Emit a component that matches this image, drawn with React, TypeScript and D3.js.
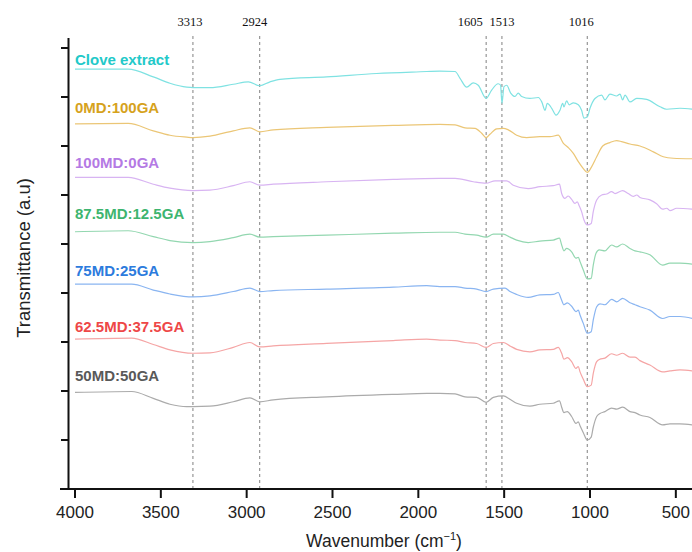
import React from "react";
import * as d3 from "d3";

// ---------- DATA ----------
const seriesNames = [
  "Clove extract",
  "0MD:100GA",
  "100MD:0GA",
  "87.5MD:12.5GA",
  "75MD:25GA",
  "62.5MD:37.5GA",
  "50MD:50GA",
];

// [wavenumber (cm-1), transmittance (a.u., stacked)]
const cloveExtract: [number, number][] = [
  [4000, 85.7], [3690, 85.7], [3544, 84.1], [3447, 82.8], [3349, 82.0], [3313, 81.9],
  [3214, 81.9], [3078, 82.6], [2990, 83.1], [2924, 82.3], [2864, 83.1], [2806, 83.6],
  [2534, 84.1], [2243, 84.8], [1951, 85.2], [1875, 85.3], [1786, 85.2], [1757, 83.8],
  [1718, 82.0], [1680, 82.9], [1651, 82.4], [1605, 79.7], [1573, 81.4], [1535, 82.7],
  [1521, 82.4], [1513, 78.7], [1501, 82.1], [1485, 82.4], [1462, 80.8], [1437, 80.1],
  [1418, 80.8], [1398, 80.1], [1350, 79.7], [1301, 79.9], [1281, 79.0], [1262, 77.3],
  [1249, 78.7], [1223, 77.7], [1198, 76.3], [1175, 77.3], [1159, 78.7], [1152, 78.0],
  [1136, 79.2], [1121, 78.4], [1097, 78.8], [1068, 78.4], [1049, 77.3], [1035, 75.7],
  [1016, 75.9], [1000, 77.7], [971, 79.7], [932, 80.4], [913, 79.4], [884, 80.6],
  [845, 80.2], [825, 80.6], [810, 79.4], [796, 80.4], [767, 79.0], [728, 79.7],
  [670, 79.5], [592, 78.0], [553, 77.5], [476, 77.7], [404, 77.5],
];

const md0ga100: [number, number][] = [
  [4000, 74.5], [3690, 74.6], [3544, 73.1], [3447, 72.2], [3349, 71.8], [3313, 71.7],
  [3214, 72.0], [3078, 73.1], [2981, 73.7], [2924, 72.9], [2845, 73.3], [2534, 73.8],
  [2146, 74.2], [1875, 74.4], [1786, 74.3], [1728, 73.7], [1670, 73.6], [1631, 72.6],
  [1605, 71.7], [1583, 72.4], [1544, 73.5], [1505, 73.6], [1476, 73.3], [1427, 72.2],
  [1369, 71.7], [1292, 71.9], [1233, 71.9], [1185, 72.2], [1156, 70.6], [1127, 69.7],
  [1097, 68.5], [1068, 66.8], [1039, 65.4], [1016, 64.6], [990, 65.8], [961, 67.8],
  [926, 70.0], [884, 70.7], [845, 71.1], [816, 70.9], [767, 70.4], [709, 70.0],
  [631, 68.8], [573, 67.8], [515, 67.5], [404, 67.4],
];

const md100ga0: [number, number][] = [
  [4000, 63.6], [3690, 63.6], [3544, 62.2], [3447, 61.4], [3313, 60.9], [3214, 61.0],
  [3078, 61.9], [2981, 62.7], [2924, 62.0], [2845, 62.2], [2534, 62.7], [2146, 63.2],
  [1875, 63.4], [1786, 63.4], [1680, 62.7], [1605, 62.4], [1553, 62.9], [1485, 62.9],
  [1447, 62.0], [1360, 61.3], [1292, 61.7], [1214, 61.9], [1178, 62.2], [1165, 60.3],
  [1146, 59.3], [1127, 59.8], [1107, 59.1], [1088, 58.3], [1074, 58.6], [1063, 57.8],
  [1049, 56.6], [1035, 54.9], [1016, 53.9], [993, 54.2], [981, 56.6], [961, 59.0],
  [932, 60.0], [903, 60.2], [874, 60.7], [854, 60.3], [810, 60.9], [777, 60.3],
  [748, 59.7], [728, 60.0], [709, 59.5], [651, 59.0], [612, 58.2], [577, 57.1],
  [553, 57.3], [534, 56.8], [495, 57.3], [404, 57.1],
];

const md87ga12: [number, number][] = [
  [4000, 52.5], [3690, 52.7], [3544, 51.5], [3447, 50.7], [3313, 50.3], [3214, 50.5],
  [3078, 51.3], [2981, 52.0], [2924, 51.4], [2845, 51.5], [2534, 51.8], [2146, 52.2],
  [1875, 52.4], [1786, 52.4], [1728, 52.0], [1660, 51.8], [1605, 51.4], [1563, 52.0],
  [1505, 52.0], [1466, 51.4], [1427, 50.8], [1360, 50.3], [1292, 50.6], [1214, 50.8],
  [1178, 51.2], [1165, 49.8], [1152, 48.6], [1136, 49.1], [1107, 48.4], [1082, 47.1],
  [1068, 47.3], [1058, 46.4], [1039, 44.7], [1016, 42.9], [993, 43.0], [981, 45.7],
  [965, 48.1], [946, 48.8], [913, 48.6], [874, 49.8], [845, 49.4], [810, 50.0],
  [767, 49.1], [738, 48.6], [709, 48.4], [651, 47.8], [577, 45.7], [534, 46.1],
  [476, 46.1], [404, 45.9],
];

const md75ga25: [number, number][] = [
  [4000, 41.8], [3670, 41.8], [3544, 40.6], [3447, 39.8], [3313, 39.2], [3214, 39.4],
  [3078, 40.3], [2981, 41.0], [2924, 40.3], [2845, 40.5], [2534, 40.8], [2146, 41.2],
  [1951, 41.5], [1875, 41.3], [1786, 41.3], [1728, 41.0], [1660, 40.8], [1605, 40.3],
  [1563, 40.8], [1495, 41.0], [1466, 40.3], [1427, 39.7], [1360, 39.1], [1292, 39.6],
  [1214, 39.7], [1185, 40.1], [1169, 38.9], [1152, 37.6], [1132, 38.0], [1107, 37.3],
  [1082, 36.2], [1068, 36.5], [1058, 35.5], [1039, 33.8], [1016, 31.8], [993, 32.1],
  [981, 34.5], [961, 37.2], [942, 37.8], [913, 37.6], [874, 38.7], [845, 38.2],
  [810, 38.9], [767, 38.0], [738, 37.6], [709, 37.2], [651, 36.5], [577, 34.8],
  [534, 35.2], [476, 35.2], [404, 34.8],
];

const md62ga37: [number, number][] = [
  [4000, 30.6], [3670, 30.8], [3544, 29.5], [3447, 28.4], [3313, 27.7], [3214, 27.8],
  [3078, 28.9], [2981, 29.9], [2924, 29.0], [2845, 29.2], [2534, 29.7], [2146, 30.3],
  [1951, 30.6], [1875, 30.4], [1786, 30.3], [1728, 29.9], [1660, 29.7], [1605, 28.9],
  [1563, 29.7], [1505, 29.9], [1466, 29.2], [1427, 28.5], [1350, 28.0], [1292, 28.4],
  [1214, 28.5], [1185, 28.9], [1165, 27.7], [1152, 26.5], [1132, 26.8], [1107, 26.0],
  [1082, 24.6], [1068, 25.0], [1058, 23.9], [1039, 22.4], [1016, 20.9], [993, 21.2],
  [981, 23.6], [961, 26.0], [942, 26.5], [913, 26.7], [874, 27.6], [845, 27.3],
  [810, 27.7], [767, 26.9], [738, 26.9], [709, 26.2], [651, 25.3], [577, 23.9],
  [534, 24.1], [476, 24.3], [404, 24.1],
];

const md50ga50: [number, number][] = [
  [4000, 19.7], [3670, 19.9], [3544, 18.5], [3447, 17.3], [3349, 16.8], [3313, 16.8],
  [3214, 16.9], [3078, 17.8], [2981, 18.6], [2924, 17.8], [2845, 18.2], [2534, 18.8],
  [2146, 19.3], [1951, 19.5], [1875, 19.5], [1786, 19.4], [1728, 18.8], [1660, 18.7],
  [1605, 17.7], [1563, 18.7], [1505, 19.0], [1466, 18.3], [1427, 17.5], [1350, 16.9],
  [1292, 17.3], [1214, 17.5], [1178, 18.0], [1165, 16.7], [1152, 15.6], [1132, 15.8],
  [1107, 14.8], [1082, 13.4], [1068, 13.7], [1058, 12.9], [1039, 11.5], [1016, 10.0],
  [993, 10.6], [981, 12.6], [961, 14.8], [942, 15.4], [913, 15.8], [874, 16.5],
  [845, 16.3], [810, 16.7], [767, 15.8], [738, 15.6], [709, 15.1], [651, 14.6],
  [577, 13.1], [534, 13.3], [476, 13.3], [404, 13.1],
];

const seriesData = [cloveExtract, md0ga100, md100ga0, md87ga12, md75ga25, md62ga37, md50ga50];

const peakWavenumbers = [3313, 2924, 1605, 1513, 1016];
const xTickValues = [4000, 3500, 3000, 2500, 2000, 1500, 1000, 500];
const yTickValues = [0, 10, 20, 30, 40, 50, 60, 70, 80, 90];

// ---------- STYLE / LAYOUT ----------
const labelColors = ["#22c9c9", "#d6a21c", "#b47ae4", "#3db56f", "#2c7bdd", "#ee4747", "#595959"];
const lineColors = ["#7fe2e2", "#ebc676", "#d8b4f2", "#93d7b0", "#8ab5f1", "#f5a5a5", "#ababab"];
const labelOffsets = [-10, -16, -15, -18, -14, -13, -17]; // px above curve start (label centre)
const peakLabelNudge = [-3, -5, -16, 0, -6];

const W = 692;
const H = 552;
const FONT = "'Liberation Sans', Arial, Helvetica, sans-serif";
const SERIF = "'Liberation Serif', 'Times New Roman', serif";

export default function App() {
  const x = d3.scaleLinear().domain([4000, 400]).range([75, 693]);
  const y = d3.scaleLinear().domain([0, 92]).range([489, 38.2]);
  const axisY = y(0);
  const axisX = 68.5;

  const line = d3
    .line<[number, number]>()
    .x((d) => x(d[0]))
    .y((d) => y(d[1]))
    .curve(d3.curveMonotoneX);

  return (
    <svg
      width={W}
      height={H}
      style={{ position: "absolute", left: 0, top: 0, background: "#fff" }}
      fontFamily={FONT}
    >
      <rect width={W} height={H} fill="#fff" />

      {/* peak dashed lines */}
      {peakWavenumbers.map((p, i) => (
        <g key={p}>
          <line
            x1={x(p)}
            x2={x(p)}
            y1={36}
            y2={axisY}
            stroke="#808080"
            strokeWidth={1}
            strokeDasharray="3,3"
          />
          <text
            x={x(p) + peakLabelNudge[i]}
            y={26}
            textAnchor="middle"
            fontFamily={SERIF}
            fontSize={12.5}
            fill="#111"
          >
            {p}
          </text>
        </g>
      ))}

      {/* spectra */}
      {seriesData.map((s, i) => (
        <path key={i} d={line(s) || ""} fill="none" stroke={lineColors[i]} strokeWidth={1.2} />
      ))}

      {/* series labels */}
      {seriesData.map((s, i) => (
        <text
          key={"l" + i}
          x={75}
          y={y(s[0][1]) + labelOffsets[i]}
          dominantBaseline="central"
          fontSize={15}
          fontWeight="bold"
          fill={labelColors[i]}
        >
          {seriesNames[i]}
        </text>
      ))}

      {/* y axis */}
      <line x1={axisX} x2={axisX} y1={38} y2={axisY + 1} stroke="#111" strokeWidth={2} />
      {yTickValues.map((t) => (
        <line key={"yt" + t} x1={61} x2={axisX} y1={y(t)} y2={y(t)} stroke="#111" strokeWidth={2} />
      ))}

      {/* x axis */}
      <line x1={60} x2={W} y1={axisY} y2={axisY} stroke="#111" strokeWidth={2} />
      {xTickValues.map((t) => (
        <g key={"xt" + t}>
          <line x1={x(t)} x2={x(t)} y1={axisY} y2={axisY + 9} stroke="#111" strokeWidth={2} />
          <text x={x(t)} y={518} textAnchor="middle" fontSize={17} fill="#222">
            {t}
          </text>
        </g>
      ))}

      {/* axis titles */}
      <text x={384} y={547} textAnchor="middle" fontSize={17.5} fill="#222">
        Wavenumber (cm
        <tspan fontSize={11} dy={-7}>
          −1
        </tspan>
        <tspan dy={7}>)</tspan>
      </text>
      <text
        transform="translate(30,258) rotate(-90)"
        textAnchor="middle"
        fontSize={18.5}
        fill="#222"
      >
        Transmittance (a.u)
      </text>
    </svg>
  );
}
